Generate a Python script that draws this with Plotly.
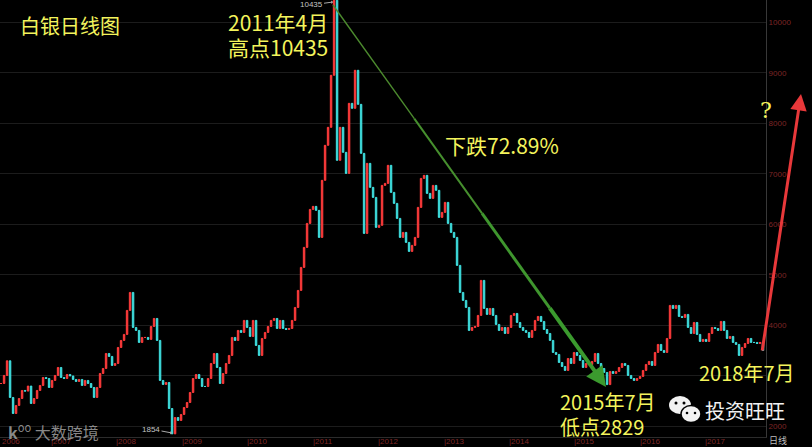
import plotly.graph_objects as go
import pandas as pd

# ---- data (silver daily chart, CNY/kg) ----
close = [
    2851, 3010, 3300, 2574, 2257, 2416, 2554, 2713, 2700, 2800, 2455, 2554, 2713, 2812, 2970,
    2950, 2772, 2911, 3010, 3168, 2970, 2950, 3029, 3000, 2931, 2891, 2931, 2812, 2911, 2851,
    2772, 2574, 2772, 3049, 3148, 3445, 3386, 3208, 3247, 3564, 3703, 3822, 4297, 4653,
    3960, 3901, 3663, 3762, 3762, 3723, 3980, 4138, 3703, 2911, 2832, 2871, 2356, 1854, 2178,
    2119, 2238, 2376, 2475, 2673, 2950, 3029, 2950, 2792, 2792, 2950, 3247, 3445, 3168, 2851,
    3049, 3247, 3406, 3762, 3703, 3901, 3861, 4099, 3960, 3782, 4099, 3604, 3406, 3742, 3861,
    3980, 4099, 4138, 3940, 4099, 3940, 3920, 3940, 4099, 4356, 4693, 5148, 5544, 6019, 6296,
    6356, 6277, 5742, 6871, 7564, 7920, 8950, 10435, 7267, 7920, 7425, 7009, 8395, 8296, 9049,
    8375, 7405, 5821, 7207, 6732, 6534, 5940, 5980, 6771, 6811, 7168, 6633, 6415, 6118, 5742,
    5841, 5643, 5465, 5584, 5742, 6336, 6910, 6970, 6613, 6514, 6771, 6673, 6138, 6237, 6435,
    6019, 5841, 5742, 5188, 4653, 4495, 4356, 3901, 3960, 3980, 4198, 4891, 4336, 4218, 4336,
    4198, 4020, 3901, 3960, 3841, 3960, 4198, 4237, 4059, 3960, 3901, 3861, 3762, 3901, 4099,
    4178, 4079, 3920, 3841, 3703, 3465, 3426, 3267, 3188, 3109, 3346, 3247, 3465, 3406, 3307,
    3168, 3247, 3228, 3287, 3445, 3247, 3148, 3069, 2829, 3089, 3049, 3089, 3168, 3247, 3208,
    3010, 2950, 2911, 2950, 2990, 3109, 3228, 3287, 3208, 3465, 3624, 3505, 3465, 3742, 4396,
    4336, 4396, 4178, 4158, 4218, 3960, 3841, 4059, 3822, 3683, 3723, 3683, 3841, 3960, 3940,
    3901, 4079, 3901, 3742, 3782, 3663, 3624, 3406, 3564, 3643, 3742, 3663, 3663, 3643, 3663,
    3505,
]
years = ["2007", "2008", "2009", "2010", "2011", "2012", "2013", "2014", "2015", "2016", "2017"]
first_year_label = "2006"
price_ticks = [2000, 3000, 4000, 5000, 6000, 7000, 8000, 9000, 10000]
# the 3000 label is hidden under the "2018年7月" note in the original
price_labels = ["2000", "", "4000", "5000", "6000", "7000", "8000", "9000", "10000"]

opens = [close[0]] + close[:-1]
highs = [max(o, c) for o, c in zip(opens, close)]
lows = [min(o, c) for o, c in zip(opens, close)]
dates = pd.date_range("2006-04-08", periods=len(close), freq="402h")

W, H = 766, 437


def px(x):
    return x / W


def py(y):
    return 1 - y / H


fig = go.Figure(go.Candlestick(
    x=dates, open=opens, high=highs, low=lows, close=close,
    increasing=dict(line=dict(color="#ff3b3b", width=1), fillcolor="#ff3b3b"),
    decreasing=dict(line=dict(color="#3fe0e0", width=1), fillcolor="#3fe0e0"),
    whiskerwidth=0, showlegend=False, hoverinfo="skip",
))

fig.update_layout(
    width=812, height=447,
    margin=dict(l=0, r=46, t=0, b=10, autoexpand=False),
    paper_bgcolor="black", plot_bgcolor="black",
    showlegend=False,
    xaxis=dict(
        type="date", range=["2006-04-02", "2017-12-17"],
        rangeslider=dict(visible=False),
        showticklabels=False, automargin=False,
        ticks="", showgrid=False, zeroline=False,
        showline=True, linecolor="#2c2c2c",
    ),
    yaxis=dict(
        side="right", range=[1792, 10440], automargin=False,
        tickvals=price_ticks, ticktext=price_labels,
        tickfont=dict(size=8, color="#7d2626", family="Liberation Sans"),
        ticks="", showgrid=True, gridcolor="#1c1c1c", zeroline=False,
        showline=True, linecolor="#383838",
    ),
)

YEL = "#f4f45c"
FONT = "Liberation Sans Narrow, Noto Sans CJK SC, sans-serif"
anns = []

# year labels along the bottom
anns.append(dict(text=first_year_label, x=0, y=py(441), xref="paper", yref="paper",
                 xanchor="left", yanchor="middle", showarrow=False,
                 font=dict(size=8, color="#7d2626", family="Liberation Sans")))
for y in years:
    anns.append(dict(text="|" + y, x=f"{y}-01-01", y=py(441), xref="x", yref="paper",
                     xanchor="left", yanchor="middle", showarrow=False,
                     font=dict(size=8, color="#7d2626", family="Liberation Sans")))


def txt(text, x, y, size, color=YEL, family=FONT, xanchor="left"):
    anns.append(dict(text=text, x=px(x), y=py(y), xref="paper", yref="paper",
                     xanchor=xanchor, yanchor="middle", showarrow=False,
                     font=dict(size=size, color=color, family=family)))


txt("白银日线图", 18, 25, 20, family="Noto Sans CJK SC")
txt("2011年4月", 226, 22, 21)
txt("高点10435", 226, 47, 21)
txt("下跌72.89%", 443, 145, 21)
txt("2015年7月", 558, 401, 20)
txt("低点2829", 558, 426, 20)
txt("2018年7月", 697, 372, 20)
txt("?", 766, 110, 22, family="DejaVu Serif", xanchor="center")
txt("投资旺旺", 703, 410, 20, color="#f2f2f2", family="Noto Sans CJK SC")
txt("<b>k</b><sup>oo</sup> 大数跨境", 6, 431, 16, color="rgba(160,160,160,0.85)",
    family="Noto Sans CJK SC")
txt("日线", 767, 440, 9, color="#bdbdbd", family="Noto Sans CJK SC")

# small price labels with pointers
anns.append(dict(text="10435", x=px(333), y=py(2), xref="paper", yref="paper",
                 ax=-22, ay=3, showarrow=True, arrowhead=1, arrowsize=0.6,
                 arrowwidth=1, arrowcolor="#aaaaaa",
                 font=dict(size=8, color="#c4c4c4", family="Liberation Sans")))
anns.append(dict(text="1854", x=px(172), y=py(433), xref="paper", yref="paper",
                 ax=-21, ay=-4, showarrow=True, arrowhead=1, arrowsize=0.6,
                 arrowwidth=1, arrowcolor="#aaaaaa",
                 font=dict(size=8, color="#c4c4c4", family="Liberation Sans")))

# green arrow head
anns.append(dict(text="", x=px(606), y=py(387), xref="paper", yref="paper",
                 ax=-10, ay=-14, showarrow=True, arrowhead=2, arrowsize=1,
                 arrowwidth=4, arrowcolor="#3b9a2e"))
# red arrow
anns.append(dict(text="", x=px(801), y=py(94), xref="paper", yref="paper",
                 ax=-39, ay=258, showarrow=True, arrowhead=2, arrowsize=1.1,
                 arrowwidth=3, arrowcolor="#e8383a"))

fig.update_layout(annotations=anns)

shapes = []
# green falling line, thickening toward the bottom
x0, y0, x1, y1 = 333, 5, 604, 384
segs = [(0.0, 0.3, 1.4, "#4c8a2e"), (0.3, 0.55, 2, "#468f2e"),
        (0.55, 0.8, 3, "#3f962e"), (0.8, 0.97, 4, "#3b9a2e")]
for a, b, w, c in segs:
    shapes.append(dict(type="line", xref="paper", yref="paper",
                       x0=px(x0 + (x1 - x0) * a), y0=py(y0 + (y1 - y0) * a),
                       x1=px(x0 + (x1 - x0) * b), y1=py(y0 + (y1 - y0) * b),
                       line=dict(color=c, width=w)))


def ell(cx, cy, rx, ry, fill, line="black", lw=0):
    shapes.append(dict(type="circle", xref="paper", yref="paper",
                       x0=px(cx - rx), x1=px(cx + rx), y0=py(cy + ry), y1=py(cy - ry),
                       fillcolor=fill, line=dict(color=line, width=lw)))


# wechat-like icon
ell(680, 405, 11, 9, "#f2f2f2")
ell(676, 403, 1.5, 1.5, "black")
ell(684, 403, 1.5, 1.5, "black")
ell(691, 414, 10, 8.5, "#f2f2f2", "black", 1.5)
ell(687, 413, 1.3, 1.3, "black")
ell(695, 413, 1.3, 1.3, "black")

fig.update_layout(shapes=shapes)

fig.write_html(
    "out.html",
    config={"displayModeBar": False},
    post_script="document.body.style.margin='0';document.body.style.background='black';",
)
